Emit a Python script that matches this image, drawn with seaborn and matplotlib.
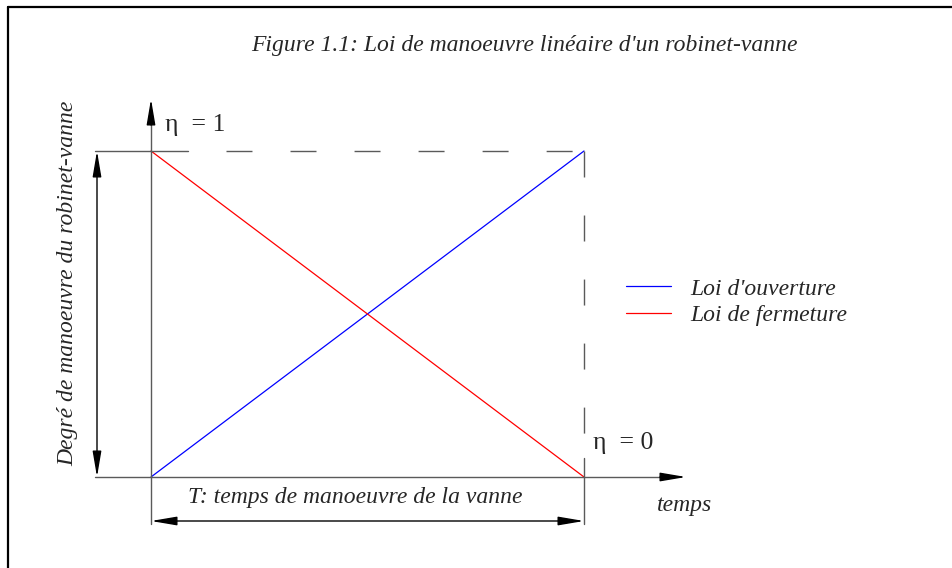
import pandas as pd
import seaborn as sns
import matplotlib.pyplot as plt
from matplotlib.lines import Line2D

# === données du schéma ===
temps = [0, 1]
ouverture = [0, 1]
fermeture = [1, 0]
labels_lois = ['Loi d\'ouverture', 'Loi de fermeture']
couleurs = ['blue', 'red']

titre = "Figure 1.1: Loi de manoeuvre linéaire d'un robinet-vanne"
label_y = 'Degré de manoeuvre du robinet-vanne'
label_T = 'T: temps de manoeuvre de la vanne'

df = pd.DataFrame({
    'temps': temps + temps,
    'eta': ouverture + fermeture,
    'loi': [labels_lois[0]] * 2 + [labels_lois[1]] * 2,
})

sns.set_theme(style='white')
plt.rcParams['font.family'] = ['Liberation Serif', 'DejaVu Serif']

fig = plt.figure(figsize=(9.52, 5.68), dpi=100)
ax = fig.add_axes([0, 0, 1, 1])
# t=0 au pixel 151, t=T au pixel 584 ; eta=0 au pixel 477, eta=1 au pixel 151
ax.set_xlim(-151 / 433, (952 - 151) / 433)
ax.set_ylim(-(568 - 477) / 326, 477 / 326)
ax.axis('off')


def X(p):
    return (p - 151) / 433


def Y(p):
    return (477 - p) / 326


sns.lineplot(data=df, x='temps', y='eta', hue='loi', palette=couleurs,
             linewidth=0.9, legend=False, ax=ax)

gris = '#5a5a5a'
tirets = (0, (18.7, 27.4))
fleche = '-|>,head_length=1.3,head_width=0.22'
double = '<|-|>,head_length=1.3,head_width=0.22'
props = dict(color='black', lw=1, shrinkA=0, shrinkB=0)

# cadre (bords gauche et haut)
ax.plot([X(8), X(960)], [Y(7), Y(7)], color='black', lw=1.6)
ax.plot([X(8), X(8)], [Y(580), Y(7)], color='black', lw=1.6)

# axes
ax.plot([X(95), X(670)], [0, 0], color=gris, lw=1)
ax.annotate('', xy=(X(686), 0), xytext=(X(660), 0),
            arrowprops=dict(arrowstyle=fleche, **props))
ax.plot([0, 0], [Y(524), Y(115)], color=gris, lw=1)
ax.annotate('', xy=(0, Y(99)), xytext=(0, Y(125)),
            arrowprops=dict(arrowstyle=fleche, **props))

# lignes de rappel eta = 1
ax.plot([X(95), X(188)], [1, 1], color=gris, lw=1)
ax.plot([X(226), 1], [1, 1], color=gris, lw=1, linestyle=tirets)
# ligne de rappel t = T
ax.plot([1, 1], [1, Y(440)], color=gris, lw=1, linestyle=tirets)
ax.plot([1, 1], [Y(458), Y(524)], color=gris, lw=1)

# cotes
ax.annotate('', xy=(X(97), 0), xytext=(X(97), 1),
            arrowprops=dict(arrowstyle=double, **props))
ax.annotate('', xy=(0, Y(521)), xytext=(1, Y(521)),
            arrowprops=dict(arrowstyle=double, **props))

# textes
texte = dict(fontsize=17, style='italic')
ax.text(X(524), Y(46), titre, ha='center', va='center', **texte)
ax.text(X(68), Y(283), label_y, rotation=90, ha='center', va='center', **texte)
ax.text(X(355), Y(498), label_T, ha='center', va='center', **texte)
ax.text(X(657), Y(505), 'temps', ha='left', va='center', **texte)
ax.text(X(165), Y(125), 'η  = 1', ha='left', va='center', fontsize=18.5)
ax.text(X(593), Y(443), 'η  = 0', ha='left', va='center', fontsize=18.5)

handles = [Line2D([], [], color=c, lw=0.9) for c in couleurs]
ax.legend(handles, labels_lois, loc='center left',
          bbox_to_anchor=(614 / 952, 1 - 302 / 568), frameon=False,
          borderpad=0, handlelength=1.9, handletextpad=0.85, labelspacing=0.2,
          prop={'family': 'Liberation Serif', 'style': 'italic', 'size': 17})

plt.savefig('out.png', dpi=100)
